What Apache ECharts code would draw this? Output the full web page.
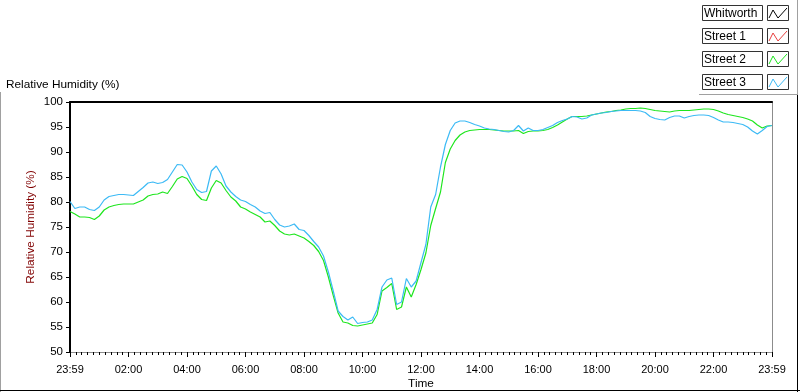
<!DOCTYPE html>
<html>
<head>
<meta charset="utf-8">
<script src="https://cdn.jsdelivr.net/npm/echarts@6/dist/echarts.min.js"></script>
<style>
  html, body { margin: 0; padding: 0; background: #fff; }
  #chart { width: 800px; height: 392px; }
</style>
</head>
<body>
<div id="chart"></div>
<script>
// readings every 10 minutes, from 23:59 to 23:59
const sampleMinutes = 10;

const whitworth = [];
const street1 = [];

const street2 = [
  78.1, 77.6, 77.0, 77.0, 76.9, 76.5, 77.2, 78.4, 79.0, 79.3,
  79.5, 79.6, 79.6, 79.6, 80.0, 80.4, 81.2, 81.5, 81.6, 82.0,
  81.7, 83.1, 84.6, 85.1, 84.7, 83.2, 81.5, 80.5, 80.3, 82.8,
  84.3, 83.8, 82.3, 81.0, 80.2, 79.0, 78.6, 78.0, 77.5, 77.0,
  76.0, 76.2, 75.3, 74.2, 73.6, 73.4, 73.6, 73.2, 72.8, 72.1,
  71.3, 70.1, 68.3, 65.0, 61.3, 57.8, 56.0, 55.8, 55.3, 55.2,
  55.4, 55.6, 55.8, 57.5, 62.2, 62.9, 63.7, 58.5, 59.0, 63.0,
  61.0, 63.5, 66.5, 69.8, 75.3, 78.7, 82.0, 87.9, 90.6, 92.3,
  93.4, 94.0, 94.3, 94.4, 94.5, 94.5, 94.5, 94.4, 94.3, 94.2,
  94.2, 94.2, 94.3, 93.7, 94.1, 94.2, 94.2, 94.3, 94.5, 94.9,
  95.4, 96.0, 96.6, 97.1, 97.1, 97.1, 97.2, 97.4, 97.6, 97.8,
  98.0, 98.1, 98.3, 98.4, 98.6, 98.7, 98.7, 98.8, 98.7, 98.5,
  98.3, 98.2, 98.1, 98.0, 98.2, 98.3, 98.3, 98.3, 98.4, 98.5,
  98.6, 98.6, 98.5, 98.2, 97.8, 97.5, 97.3, 97.1, 96.9, 96.6,
  96.2, 95.4, 94.8, 95.2, 95.3
];

const street3 = [
  80.1, 78.7, 79.0, 79.0, 78.5, 78.3, 79.0, 80.4, 81.1, 81.3,
  81.5, 81.5, 81.4, 81.3, 82.1, 82.9, 83.8, 84.0, 83.7, 83.9,
  84.5, 86.0, 87.5, 87.4, 86.0, 84.0, 82.5, 81.9, 82.1, 86.2,
  87.2, 85.6, 83.2, 82.0, 81.1, 80.4, 80.1, 79.5, 79.0, 78.2,
  77.7, 77.9, 76.5, 75.4, 75.0, 75.2, 75.6, 74.5, 74.3, 73.3,
  72.1, 71.0, 69.2, 66.0, 62.2, 58.2, 57.1, 56.4, 57.0, 55.7,
  55.9, 56.0, 56.4, 58.5, 63.0, 64.4, 64.8, 59.5, 60.0, 64.7,
  63.0, 64.2, 67.9, 71.5, 79.0, 81.5, 87.0, 91.5, 94.3, 95.8,
  96.2, 96.2, 95.9, 95.5, 95.2, 94.8, 94.6, 94.5, 94.3, 94.1,
  94.0, 94.3, 95.3, 94.2, 94.8, 94.3, 94.3, 94.5, 94.9, 95.3,
  95.9, 96.3, 96.6, 97.1, 97.0, 96.6, 96.8, 97.4, 97.6, 97.8,
  97.9, 98.1, 98.2, 98.3, 98.3, 98.3, 98.3, 98.2, 97.9, 97.1,
  96.7, 96.5, 96.4, 96.9, 97.2, 97.2, 96.8, 97.1, 97.3, 97.4,
  97.4, 97.3, 96.9, 96.4, 96.0, 96.0, 95.9, 95.7, 95.5, 95.0,
  94.2, 93.6, 94.3, 95.1, 95.3
];

const timeTickLabels = ['23:59', '02:00', '04:00', '06:00', '08:00', '10:00', '12:00',
  '14:00', '16:00', '18:00', '20:00', '22:00', '23:59'];
const seriesNames = ['Whitworth', 'Street 1', 'Street 2', 'Street 3'];
const seriesColors = ['#000000', '#e84040', '#1ee61e', '#3cbaf5'];
const seriesData = [whitworth, street1, street2, street3];

const font = 'Liberation Sans';
const toPairs = (arr) => arr.map((v, i) => [i * sampleMinutes, v]);

// legend drawn as LabVIEW-style boxes
const legendGraphics = [];
seriesNames.forEach((name, k) => {
  const y0 = 5 + k * 23;
  legendGraphics.push({
    type: 'rect', silent: true,
    shape: { x: 702.5, y: y0 + 0.5, width: 60, height: 15 },
    style: { fill: '#fff', stroke: '#333', lineWidth: 1 }
  });
  legendGraphics.push({
    type: 'text', silent: true,
    style: { x: 704, y: y0 + 8.5, text: name, fill: '#000', font: '12px ' + font, verticalAlign: 'middle' }
  });
  legendGraphics.push({
    type: 'rect', silent: true,
    shape: { x: 767.5, y: y0 + 0.5, width: 21, height: 15 },
    style: { fill: '#fff', stroke: '#333', lineWidth: 1 }
  });
  legendGraphics.push({
    type: 'polyline', silent: true,
    shape: { points: [[769, y0 + 13], [773, y0 + 5], [778, y0 + 13], [787, y0 + 3]] },
    style: { stroke: seriesColors[k], lineWidth: 1, fill: null }
  });
});

// panel frame lines
const frameGraphics = [
  { type: 'line', silent: true, shape: { x1: 0.5, y1: 92, x2: 0.5, y2: 392 }, style: { stroke: '#a0a0a0', lineWidth: 1 } },
  { type: 'line', silent: true, shape: { x1: 0, y1: 390.5, x2: 800, y2: 390.5 }, style: { stroke: '#000', lineWidth: 1 } },
  { type: 'line', silent: true, shape: { x1: 797.5, y1: 95, x2: 797.5, y2: 392 }, style: { stroke: '#000', lineWidth: 1 } },
  { type: 'line', silent: true, shape: { x1: 797.5, y1: 0, x2: 797.5, y2: 95 }, style: { stroke: '#a0a0a0', lineWidth: 1 } },
  { type: 'line', silent: true, shape: { x1: 699, y1: 94.5, x2: 797, y2: 94.5 }, style: { stroke: '#a0a0a0', lineWidth: 1 } }
];

const chart = echarts.init(document.getElementById('chart'));

const option = {
  animation: false,
  backgroundColor: '#fff',
  textStyle: { fontFamily: font },
  title: {
    text: 'Relative Humidity (%)',
    left: 1,
    top: 74,
    textStyle: { fontSize: 11.8, fontWeight: 'normal', color: '#000', fontFamily: font }
  },
  grid: { left: 70, right: 28, top: 102, bottom: 40, outerBoundsMode: 'none', containLabel: false },
  xAxis: [
    {
      type: 'value',
      min: 0,
      max: 1440,
      interval: 120,
      position: 'bottom',
      axisLine: { onZero: false, lineStyle: { color: '#8c8c8c', width: 1 } },
      axisTick: { show: true, length: 5, lineStyle: { color: '#000' } },
      minorTick: { show: true, splitNumber: 10, length: 3, lineStyle: { color: '#000' } },
      axisLabel: {
        fontSize: 11, color: '#000', margin: 12, showMinLabel: true, showMaxLabel: true,
        formatter: (v) => timeTickLabels[Math.round(v / 120)]
      },
      splitLine: { show: false },
      name: 'Time',
      nameLocation: 'middle',
      nameGap: 26,
      nameMoveOverlap: false,
      nameTextStyle: { fontSize: 11.8, color: '#000' }
    },
    {
      type: 'value',
      min: 0,
      max: 1440,
      position: 'top',
      axisLine: { onZero: false, lineStyle: { color: '#000', width: 2 } },
      axisTick: { show: false },
      axisLabel: { show: false },
      splitLine: { show: false }
    }
  ],
  yAxis: [
    {
      type: 'value',
      min: 50,
      max: 100,
      interval: 5,
      position: 'left',
      axisLine: { show: true, onZero: false, lineStyle: { color: '#000', width: 2 } },
      axisTick: { show: true, length: 4, lineStyle: { color: '#000' } },
      axisLabel: { fontSize: 11.5, color: '#000', margin: 7 },
      splitLine: { show: false },
      name: 'Relative Humidity (%)',
      nameLocation: 'middle',
      nameGap: 33,
      nameMoveOverlap: false,
      nameTextStyle: { fontSize: 11.8, color: '#800000' }
    },
    {
      type: 'value',
      min: 50,
      max: 100,
      position: 'right',
      axisLine: { show: true, onZero: false, lineStyle: { color: '#8c8c8c', width: 1 } },
      axisTick: { show: false },
      axisLabel: { show: false },
      splitLine: { show: false }
    }
  ],
  series: seriesNames.map((name, k) => ({
    name,
    type: 'line',
    xAxisIndex: 0,
    yAxisIndex: 0,
    showSymbol: false,
    symbol: 'none',
    lineStyle: { color: seriesColors[k], width: 1.2 },
    itemStyle: { color: seriesColors[k] },
    data: toPairs(seriesData[k])
  })),
  graphic: legendGraphics.concat(frameGraphics)
};

chart.setOption(option);
</script>
</body>
</html>
